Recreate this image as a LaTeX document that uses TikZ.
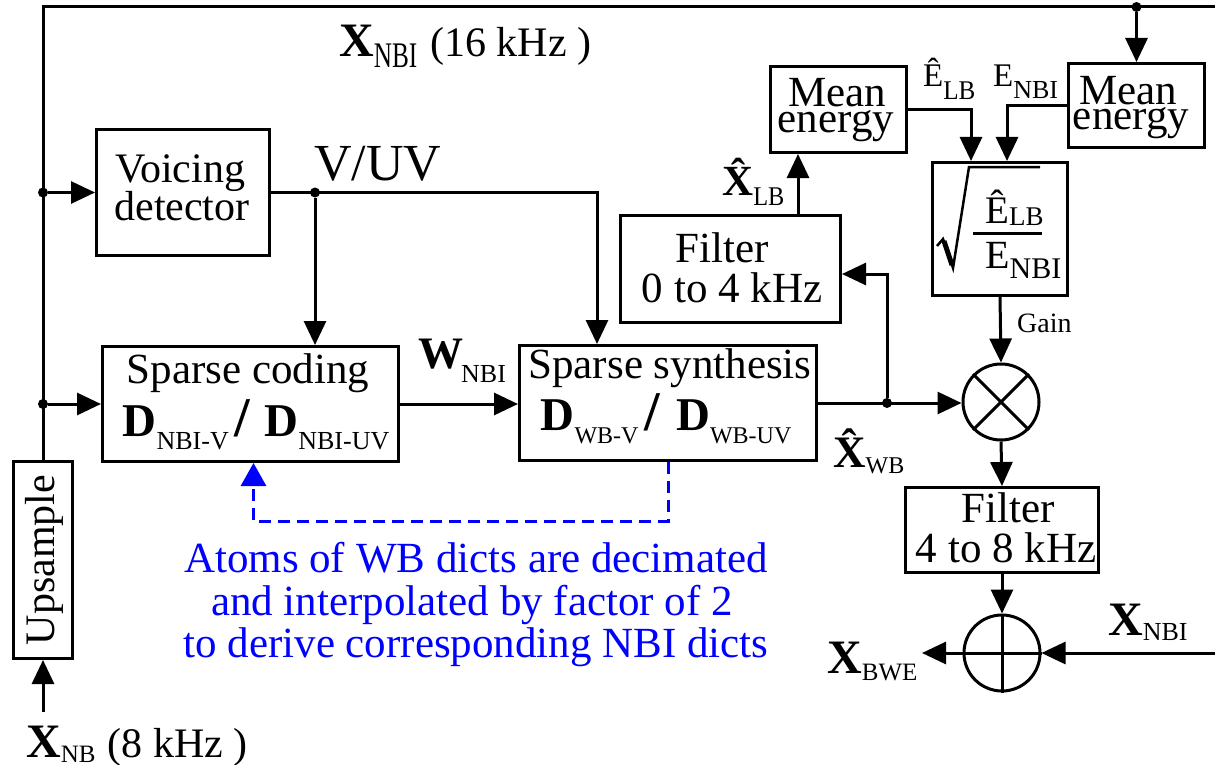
\documentclass[tikz,border=0pt]{standalone}
\usepackage{fontspec}
\setmainfont{Liberation Serif}
\usepackage{graphicx}
\usetikzlibrary{arrows.meta}
\newcommand\fs[1]{\fontsize{#1}{#1}\selectfont}
\newcommand\lo[4]{\raisebox{-#3pt}{\fs{#1}\scalebox{#2}[1]{#4}}}
\newcommand\bX[1]{{\fs{#1}\bfseries X}}
\newcommand\bD{{\fs{47}\bfseries D}}
\newcommand\bsl{{\fs{56}\bfseries /}}
\begin{document}
\begin{tikzpicture}[x=1pt,y=-1pt,
  box/.style={draw,line width=3pt,inner sep=0pt},
  con/.style={line width=3pt},
  arr/.style={line width=3pt,-{Triangle[length=24pt,width=22pt]}},
  jdot/.style={circle,fill,inner sep=0pt,minimum size=10pt},
  txt/.style={inner sep=0pt,anchor=base},
  lbl/.style={inner sep=0pt,anchor=base west},
  sumc/.style={draw,circle,line width=3pt,minimum size=76pt,inner sep=0pt},
  blu/.style={draw=blue,line width=3pt,dash pattern=on 12pt off 7pt,-{Triangle[length=23pt,width=25pt]}},
  note/.style={inner sep=0pt,anchor=base,text=blue,font=\fs{43}},
]
\fill[white] (0,0) rectangle (1215,765);
\useasboundingbox (0,0) rectangle (1215,765);

% boxes
\node[box,minimum width=173pt,minimum height=126pt] (vd) at (183,192.5) {};
\node[box,minimum width=296pt,minimum height=115pt] (sc) at (250.5,404) {};
\node[box,minimum width=297pt,minimum height=115pt] (ss) at (668,403) {};
\node[box,minimum width=59pt,minimum height=197pt] (up) at (43,560) {};
\node[box,minimum width=220pt,minimum height=107pt] (f04) at (730.5,269) {};
\node[box,minimum width=136pt,minimum height=86pt] (me1) at (838.5,109.5) {};
\node[box,minimum width=136pt,minimum height=84pt] (me2) at (1136.5,105.5) {};
\node[box,minimum width=135pt,minimum height=133pt] (sq) at (1000,229) {};
\node[box,minimum width=193pt,minimum height=85pt] (f48) at (1002,530) {};
\node[sumc] (mult) at (1001,402) {};
\node[sumc] (plus) at (1002,653) {};
\draw[con] (mult.north west) -- (mult.south east);
\draw[con] (mult.north east) -- (mult.south west);
\draw[con] (plus.north) -- (plus.south);
\draw[con] (plus.west) -- (plus.east);

% box texts
\node[txt,font=\fs{42}] (vdt1) at (180,182) {Voicing};
\node[txt,font=\fs{42}] (vdt2) at (182,220) {detector};
\node[txt,font=\fs{43}] (sct1) at (248,383) {Sparse coding};
\node[txt] (sct2) at (256,436) {\bD\lo{26}{1}{13}{NBI-V}\kern6pt\bsl\kern14pt\bD\lo{26}{1}{13}{NBI-UV}};
\node[txt,font=\fs{43}] (sst1) at (670,378) {Sparse synthesis};
\node[txt] (sst2) at (666,430) {\bD\lo{24}{1}{13}{WB-V}\kern6pt\bsl\kern16pt\bD\lo{24}{1}{13}{WB-UV}};
\node[txt,rotate=90,font=\fs{42}] (upt) at (54,560) {Upsample};
\node[txt,font=\fs{43}] (f04a) at (722,262) {Filter};
\node[txt,font=\fs{43}] (f04b) at (732,302) {0 to 4 kHz};
\node[txt,font=\fs{43}] (me1a) at (837,107) {Mean};
\node[txt,font=\fs{43}] (me1b) at (836,133) {energy};
\node[txt,font=\fs{43}] (me2a) at (1128,105) {Mean};
\node[txt,font=\fs{43}] (me2b) at (1131,129) {energy};
\node[txt,font=\fs{43}] (f48a) at (1008,522) {Filter};
\node[txt,font=\fs{43}] (f48b) at (1006,562) {4 to 8 kHz};

% sqrt
\draw[line width=2.5pt,line join=miter,miter limit=10] (937,246) -- (943,239) -- (953,268) -- (969,167) -- (1040,167);
\draw[line width=5pt] (944,241) -- (952,265);
\draw[con] (973,233) -- (1042,233);
\node[lbl] (num) at (985,223) {{\fs{39}Ê}\lo{27}{1}{2}{LB}};
\node[lbl] (den) at (985,268) {{\fs{40}E}\lo{30}{1}{10}{NBI}};

% labels
\node[lbl] (lnbi) at (339,57) {\bX{48}\lo{36}{0.7}{11}{NBI}\kern13pt{\fs{42}(16 kHz )}};
\node[lbl] (lvuv) at (314,180) {{\fs{52}V/UV}};
\node[lbl] (lw) at (418,368) {{\fs{45}\bfseries W}\kern-2pt\lo{26}{1}{14}{NBI}};
\node[lbl] (lxlb) at (722,195) {{\fs{43}\bfseries\^{X}}\lo{27}{0.9}{10}{LB}};
\node[lbl] (lelb) at (923,87) {{\fs{33}Ê}\lo{27}{0.93}{13}{LB}};
\node[lbl] (lenbi) at (993,87) {{\fs{33}E}\lo{26}{1}{12}{NBI}};
\node[lbl] (gain) at (1017,332) {{\fs{28}Gain}};
\node[lbl] (lxwb) at (833,467) {{\fs{45}\bfseries\^{X}}\lo{24}{1}{6}{WB}};
\node[lbl] (lxnbi) at (1108,635) {\bX{48}\lo{26}{1}{5}{NBI}};
\node[lbl] (lxbwe) at (827,673) {\bX{48}\lo{25}{1}{7}{BWE}};
\node[lbl] (lxnb) at (26,757) {\bX{48}\lo{25}{1}{5}{NB}\kern12pt{\fs{42}(8 kHz )}};

\node[note] (n1) at (476,572) {Atoms of WB dicts are decimated};
\node[note] (n2) at (472,615) {and interpolated by factor of 2};
\node[note] (n3) at (476,657) {to derive corresponding NBI dicts};

% coordinates
\coordinate (tl) at (43,7);
\coordinate (tr) at (1215,7);
\coordinate (inb) at (43,712);
\coordinate (inr) at (1215,653);
\coordinate (out) at (922,653);
\coordinate (vs) at (597,0);
\coordinate (xl) at (798,0);
\coordinate (el) at (971,0);
\coordinate (en) at (1007,0);
\coordinate (fb) at (887,274);

% connectors
\draw[con] (up.north) -- (tl) -- (tr);
\node[jdot] (d1) at (up.north |- vd.west) {};
\node[jdot] (d2) at (up.north |- sc.west) {};
\draw[arr] (d1) -- (vd.west);
\draw[arr] (d2) -- (sc.west);
\draw[arr] (inb) -- (up.south);
\draw[arr] (vd.east) -| (vs |- ss.north);
\node[jdot] (d3) at (315,192.5) {};
\draw[arr] (d3) -- (d3 |- sc.north);
\draw[arr] (sc.east) -- (sc.east -| ss.west);
\draw[arr] (ss.east) -- (ss.east -| mult.west);
\node[jdot] (d4) at (887,403) {};
\draw[arr] (d4) -- (fb) -- (fb -| f04.east);
\draw[arr] (xl |- f04.north) -- (xl |- me1.south);
\draw[arr] (me1.east) -| (el |- sq.north);
\draw[arr] (me2.west) -| (en |- sq.north);
\node[jdot] (d5) at (me2.north |- tl) {};
\draw[arr] (d5) -- (me2.north);
\draw[arr] (sq.south) -- (mult.north);
\draw[arr] (mult.south) -- (f48.north);
\draw[arr] (f48.south) -- (plus.north);
\draw[arr] (inr) -- (plus.east);
\draw[arr] (plus.west) -- (out);
\draw[blu] (ss.south) -- ++(0,59) -| ([xshift=3pt]sc.south);
\end{tikzpicture}
\end{document}
